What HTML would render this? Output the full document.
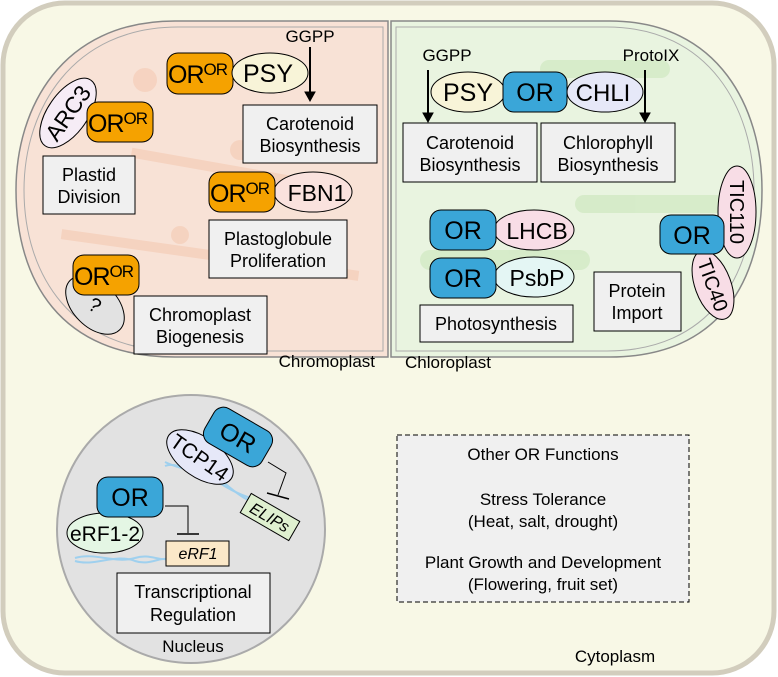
<!DOCTYPE html>
<html><head><meta charset="utf-8"><style>
html,body{margin:0;padding:0;background:#fff}
svg{display:block;font-family:"Liberation Sans",sans-serif}
</style></head><body>
<svg width="778" height="677" viewBox="0 0 778 677" xmlns="http://www.w3.org/2000/svg">
<rect x="3" y="3" width="771" height="670" rx="62" fill="#f8f8e6" stroke="#d2cdbd" stroke-width="5"/>
<path d="M388,21 L175,21 C60,21 16,110 16,190 C16,280 60,357 175,357 L388,357 Z" fill="#f8e2d6" stroke="#888" stroke-width="1.5"/>
<path d="M383,27 L178,27 C72,27 24,110 24,190 C24,275 72,351 178,351 L383,351 Z" fill="none" stroke="#aaa" stroke-width="1"/>
<path d="M391,21 L610,21 C720,21 762,110 762,190 C762,280 720,357 610,357 L391,357 Z" fill="#e9f4e0" stroke="#888" stroke-width="1.5"/>
<path d="M396,27 L607,27 C710,27 754,110 754,190 C754,275 710,351 607,351 L396,351 Z" fill="none" stroke="#aaa" stroke-width="1"/>
<g fill="#f5cdb8" opacity="0.7">
<circle cx="145" cy="80" r="12"/><circle cx="240" cy="150" r="10"/><circle cx="180" cy="235" r="9"/>
<rect x="130" y="165" width="200" height="10" transform="rotate(10 230 170)"/>
<rect x="60" y="250" width="300" height="10" transform="rotate(8 210 255)"/>
</g>
<g fill="#cfe8c0" opacity="0.7">
<rect x="540" y="60" width="130" height="18" rx="9"/><rect x="575" y="195" width="150" height="18" rx="9"/><rect x="420" y="250" width="170" height="20" rx="10"/>
</g>
<g stroke="#000" stroke-width="1" font-size="18" text-anchor="middle">
<text x="310" y="42" stroke="none" font-size="17">GGPP</text>
<line x1="310" y1="47" x2="310" y2="92" stroke-width="2"/><path d="M305,92 L315,92 L310,101 Z"/>
<rect x="167" y="53" width="66" height="41" rx="11" fill="#f5a200"/>
<text x="168" y="83" stroke="none" font-size="25" text-anchor="start" letter-spacing="-1">OR<tspan font-size="17" dy="-8">OR</tspan></text>
<ellipse cx="270" cy="73" rx="38" ry="20" fill="#f8f4d8"/>
<text x="268" y="82" stroke="none" font-size="25">PSY</text>
<rect x="243" y="105" width="134" height="58" fill="#f0f0f0"/>
<text x="310" y="130" stroke="none">Carotenoid</text><text x="310" y="152" stroke="none">Biosynthesis</text>

<ellipse cx="68" cy="113" rx="40" ry="20" fill="#f6ecf6" transform="rotate(-55 68 113)"/>
<text x="68" y="121" stroke="none" font-size="23" transform="rotate(-55 68 113)">ARC3</text>
<rect x="87" y="102" width="66" height="40" rx="11" fill="#f5a200"/>
<text x="88" y="132" stroke="none" font-size="25" text-anchor="start" letter-spacing="-1">OR<tspan font-size="17" dy="-8">OR</tspan></text>
<rect x="43" y="156" width="92" height="58" fill="#f0f0f0"/>
<text x="89" y="181" stroke="none">Plastid</text><text x="89" y="203" stroke="none">Division</text>

<ellipse cx="313" cy="192" rx="39" ry="20" fill="#fae2de"/>
<text x="317" y="201" stroke="none" font-size="23">FBN1</text>
<rect x="209" y="172" width="66" height="40" rx="11" fill="#f5a200"/>
<text x="210" y="202" stroke="none" font-size="25" text-anchor="start" letter-spacing="-1">OR<tspan font-size="17" dy="-8">OR</tspan></text>
<rect x="209" y="220" width="138" height="58" fill="#f0f0f0"/>
<text x="278" y="245" stroke="none">Plastoglobule</text><text x="278" y="267" stroke="none">Proliferation</text>

<ellipse cx="95" cy="305" rx="35" ry="22" fill="#e2e2e2" transform="rotate(45 95 305)"/>
<text x="95" y="312" stroke="none" font-size="20" transform="rotate(30 95 305)">?</text>
<rect x="73" y="255" width="66" height="40" rx="11" fill="#f5a200"/>
<text x="74" y="285" stroke="none" font-size="25" text-anchor="start" letter-spacing="-1">OR<tspan font-size="17" dy="-8">OR</tspan></text>
<rect x="134" y="296" width="133" height="58" fill="#f0f0f0"/>
<text x="200" y="321" stroke="none">Chromoplast</text><text x="200" y="343" stroke="none">Biogenesis</text>
<text x="375" y="367" stroke="none" font-size="17" text-anchor="end">Chromoplast</text>

<text x="447" y="61" stroke="none" font-size="17">GGPP</text>
<line x1="428" y1="70" x2="428" y2="113" stroke-width="2"/><path d="M423,113 L433,113 L428,122 Z"/>
<text x="651" y="61" stroke="none" font-size="17">ProtoIX</text>
<ellipse cx="468" cy="92" rx="37" ry="20" fill="#f8f4d8"/>
<text x="468" y="101" stroke="none" font-size="25">PSY</text>
<ellipse cx="605" cy="92" rx="38" ry="20" fill="#e6e8f8"/>
<text x="603" y="101" stroke="none" font-size="24">CHLI</text>
<line x1="645" y1="70" x2="645" y2="113" stroke-width="2"/><path d="M640,113 L650,113 L645,122 Z"/>
<rect x="503" y="72" width="64" height="40" rx="11" fill="#3aa6d8"/>
<text x="535" y="101" stroke="none" font-size="25">OR</text>
<rect x="403" y="123" width="134" height="59" fill="#f0f0f0"/>
<text x="470" y="149" stroke="none">Carotenoid</text><text x="470" y="171" stroke="none">Biosynthesis</text>
<rect x="541" y="123" width="134" height="59" fill="#f0f0f0"/>
<text x="608" y="149" stroke="none">Chlorophyll</text><text x="608" y="171" stroke="none">Biosynthesis</text>

<ellipse cx="534" cy="230" rx="40" ry="20" fill="#f8dde6"/>
<text x="537" y="239" stroke="none" font-size="23">LHCB</text>
<rect x="430" y="210" width="66" height="40" rx="11" fill="#3aa6d8"/>
<text x="463" y="239" stroke="none" font-size="25">OR</text>
<ellipse cx="534" cy="277" rx="40" ry="20" fill="#e4f6f4"/>
<text x="537" y="286" stroke="none" font-size="23">PsbP</text>
<rect x="430" y="258" width="66" height="40" rx="11" fill="#3aa6d8"/>
<text x="463" y="287" stroke="none" font-size="25">OR</text>
<rect x="420" y="305" width="153" height="37" fill="#f0f0f0"/>
<text x="496" y="330" stroke="none">Photosynthesis</text>
<rect x="594" y="272" width="87" height="59" fill="#f0f0f0"/>
<text x="637" y="297" stroke="none">Protein</text><text x="637" y="319" stroke="none">Import</text>

<ellipse cx="737" cy="212" rx="46" ry="19" fill="#f8dde6" transform="rotate(90 737 212)"/>
<text x="737" y="219" stroke="none" font-size="20" transform="rotate(90 737 212)">TIC110</text>
<ellipse cx="713" cy="285" rx="36" ry="18" fill="#f8dde6" transform="rotate(70 713 285)"/>
<text x="713" y="292" stroke="none" font-size="20" transform="rotate(70 713 285)">TIC40</text>
<rect x="660" y="215" width="64" height="39" rx="11" fill="#3aa6d8"/>
<text x="692" y="244" stroke="none" font-size="25">OR</text>
<text x="405" y="368" stroke="none" font-size="17" text-anchor="start">Chloroplast</text>

<circle cx="191" cy="529" r="134" fill="#e2e2e2" stroke="#aaa" stroke-width="2"/>
<g fill="none" stroke="#9fd0ee" stroke-width="2">
<path d="M75,558 C95,552 115,564 135,558 C150,553 160,562 168,558"/>
<path d="M75,561 C95,567 115,553 135,561 C150,566 160,556 168,560"/>
<path d="M165,462 C180,470 200,470 215,480 C230,490 245,498 260,500"/>
<path d="M165,466 C180,460 200,480 215,476 C230,486 245,504 260,502"/>
</g>
<ellipse cx="200" cy="457" rx="38" ry="20" fill="#e6e8f8" transform="rotate(35 200 457)"/>
<text x="200" y="465" stroke="none" font-size="21" transform="rotate(35 200 457)">TCP14</text>
<g transform="rotate(30 238 437)">
<rect x="205" y="417" width="66" height="40" rx="11" fill="#3aa6d8"/>
<text x="238" y="446" stroke="none" font-size="25">OR</text>
</g>
<path d="M268,462 L286,473 L278,495" fill="none"/><line x1="267" y1="493" x2="289" y2="499" stroke-width="1.5"/>
<g transform="rotate(30 270 517)">
<rect x="242" y="506" width="56" height="22" fill="#dff0d0"/>
<text x="270" y="523" stroke="none" font-size="16" font-style="italic">ELIPs</text>
</g>
<ellipse cx="105" cy="533" rx="38" ry="20" fill="#e4f6e4"/>
<text x="105" y="541" stroke="none" font-size="21">eRF1-2</text>
<rect x="97" y="477" width="66" height="40" rx="11" fill="#3aa6d8"/>
<text x="130" y="506" stroke="none" font-size="25">OR</text>
<path d="M165,506 L188,506 L188,533" fill="none"/><line x1="177" y1="534" x2="199" y2="534" stroke-width="1.5"/>
<rect x="166" y="541" width="63" height="25" fill="#fbe8c8"/>
<text x="198" y="559" stroke="none" font-size="16" font-style="italic">eRF1</text>
<rect x="117" y="573" width="153" height="60" fill="#f0f0f0"/>
<text x="193" y="598" stroke="none">Transcriptional</text><text x="193" y="621" stroke="none">Regulation</text>
<text x="193" y="652" stroke="none" font-size="17">Nucleus</text>

<rect x="397" y="435" width="292" height="167" fill="#f0f0f0" stroke-dasharray="5,3"/>
<g stroke="none" font-size="17">
<text x="543" y="460">Other OR Functions</text>
<text x="543" y="505">Stress Tolerance</text>
<text x="543" y="527">(Heat, salt, drought)</text>
<text x="543" y="568">Plant Growth and Development</text>
<text x="543" y="590">(Flowering, fruit set)</text>
</g>
<text x="615" y="662" stroke="none" font-size="17">Cytoplasm</text>
</g>
</svg>
</body></html>
